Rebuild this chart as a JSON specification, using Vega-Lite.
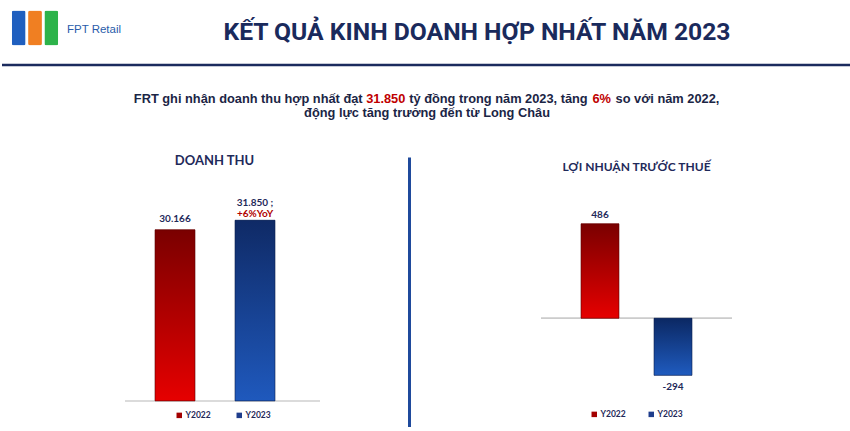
{
  "$schema": "https://vega.github.io/schema/vega-lite/v6.json",
  "background": "white",
  "padding": 0,
  "spacing": 0,
  "config": {
    "view": {"stroke": null},
    "legend": {"layout": {"bottom": {"anchor": "middle", "bounds": "flush"}}}
  },
  "vconcat": [
    {
      "hconcat": [
        {
          "width": 66,
          "height": 63,
          "data": {"values": [{"part": "F", "v": 1}, {"part": "P", "v": 1}, {"part": "T", "v": 1}]},
          "mark": {"type": "bar", "cornerRadius": 2},
          "encoding": {
            "x": {"field": "part", "type": "nominal", "scale": {"paddingInner": 0.15, "paddingOuter": 0.6}, "axis": null},
            "y": {"field": "v", "type": "quantitative", "scale": {"domain": [-0.5, 1.3], "nice": false, "zero": false}, "axis": null},
            "color": {"field": "part", "type": "nominal", "scale": {"range": ["#1f5fbf", "#f07f22", "#2db34a"]}, "legend": null}
          }
        },
        {
          "width": 52,
          "height": 63,
          "data": {"values": [{}]},
          "mark": {"type": "text", "text": "FPT Retail", "font": "Liberation Sans, Arial, sans-serif", "fontSize": 11.5, "color": "#2a5caa", "align": "center", "baseline": "middle", "dy": -1.5},
          "encoding": {}
        },
        {
          "width": 714,
          "height": 63,
          "data": {"values": [{}]},
          "mark": {"type": "text", "text": "KẾT QUẢ KINH DOANH HỢP NHẤT NĂM 2023", "font": "Roboto, Liberation Sans, sans-serif", "fontSize": 24.7, "fontWeight": "bold", "color": "#1a2a5c", "align": "center", "baseline": "middle", "dy": 1.5},
          "encoding": {}
        }
      ],
      "spacing": 0,
      "bounds": "flush"
    },
    {
      "width": 850,
      "height": 1,
      "data": {"values": [{}]},
      "mark": {"type": "rule", "color": "#1b2b5e", "strokeWidth": 2.5},
      "encoding": {"y": {"value": 0}}
    },
    {
      "width": 850,
      "height": 88,
      "data": {"values": [{}]},
      "layer": [
        {"mark": {"type": "text", "text": "FRT ghi nhận doanh thu hợp nhất đạt", "align": "right", "dx": -64.4, "dy": -12.5, "baseline": "middle", "font": "Liberation Sans, Arial, sans-serif", "fontSize": 12.8, "fontWeight": "bold", "color": "#1b2545"}, "encoding": {}},
        {"mark": {"type": "text", "text": "31.850", "align": "left", "dx": -60.8, "dy": -12.5, "baseline": "middle", "font": "Liberation Sans, Arial, sans-serif", "fontSize": 12.8, "fontWeight": "bold", "color": "#c00000"}, "encoding": {}},
        {"mark": {"type": "text", "text": "tỷ đồng trong năm 2023, tăng", "align": "left", "dx": -17.8, "dy": -12.5, "baseline": "middle", "font": "Liberation Sans, Arial, sans-serif", "fontSize": 12.8, "fontWeight": "bold", "color": "#1b2545"}, "encoding": {}},
        {"mark": {"type": "text", "text": "6%", "align": "left", "dx": 165.5, "dy": -12.5, "baseline": "middle", "font": "Liberation Sans, Arial, sans-serif", "fontSize": 12.8, "fontWeight": "bold", "color": "#c00000"}, "encoding": {}},
        {"mark": {"type": "text", "text": "so với năm 2022,", "align": "left", "dx": 188.6, "dy": -12.5, "baseline": "middle", "font": "Liberation Sans, Arial, sans-serif", "fontSize": 12.8, "fontWeight": "bold", "color": "#1b2545"}, "encoding": {}},
        {"mark": {"type": "text", "text": "động lực tăng trưởng đến từ Long Châu", "align": "center", "dx": 0, "dy": 2, "baseline": "middle", "font": "Liberation Sans, Arial, sans-serif", "fontSize": 12.8, "fontWeight": "bold", "color": "#1b2545"}, "encoding": {}}
      ]
    },
    {
      "hconcat": [
        {
          "width": 122,
          "height": 270,
          "data": {"values": [{}]},
          "mark": {"type": "text", "text": ""},
          "encoding": {}
        },
        {
          "hconcat": [
            {
              "width": 195,
              "height": 270,
              "title": {"text": "DOANH THU", "frame": "group", "anchor": "middle", "baseline": "alphabetic", "offset": -21, "dx": -8, "font": "Lato", "fontSize": 13, "fontWeight": "bold", "color": "#1f2a5a"},
              "data": {"values": [
                {"year": "Y2022", "value": 30166, "label": "30.166"},
                {"year": "Y2023", "value": 31850, "label": "31.850 ;", "note": "+6%YoY"}
              ]},
              "layer": [
                {
                  "mark": {"type": "rule", "color": "#d9d9d9", "strokeWidth": 1.5},
                  "encoding": {"y": {"datum": 0, "type": "quantitative", "scale": {"domain": [-4600, 43000], "nice": false, "zero": false}, "axis": null}}
                },
                {
                  "mark": {"type": "bar"},
                  "encoding": {
                    "x": {"field": "year", "type": "nominal", "scale": {"paddingInner": 0.5, "paddingOuter": 0.46875, "align": 0.4}, "axis": null},
                    "y": {"field": "value", "type": "quantitative", "scale": {"domain": [-4600, 43000], "nice": false, "zero": false}, "axis": null},
                    "color": {"field": "year", "type": "nominal", "scale": {"domain": ["Y2022", "Y2023"], "range": ["#a30000", "#1f3d8c"]}, "legend": {"orient": "bottom", "direction": "horizontal", "title": null, "offset": -16, "padding": 0, "symbolType": "square", "symbolSize": 30, "symbolStrokeWidth": 0, "labelFont": "Lato", "labelFontSize": 8.5, "labelFontWeight": "bold", "labelColor": "#1f2a5a", "columnPadding": 24, "labelOffset": 2}}
                  }
                },
                {
                  "transform": [{"filter": "datum.year === 'Y2022'"}],
                  "mark": {"type": "bar", "stroke": "#5a0000", "strokeWidth": 0.6, "color": {"gradient": "linear", "x1": 0, "y1": 0, "x2": 0, "y2": 1, "stops": [{"offset": 0, "color": "#7a0000"}, {"offset": 1, "color": "#e60000"}]}},
                  "encoding": {
                    "x": {"field": "year", "type": "nominal", "axis": null},
                    "y": {"field": "value", "type": "quantitative"}
                  }
                },
                {
                  "transform": [{"filter": "datum.year === 'Y2023'"}],
                  "mark": {"type": "bar", "stroke": "#0a1f4d", "strokeWidth": 0.6, "color": {"gradient": "linear", "x1": 0, "y1": 0, "x2": 0, "y2": 1, "stops": [{"offset": 0, "color": "#0f2a66"}, {"offset": 1, "color": "#1f59bd"}]}},
                  "encoding": {
                    "x": {"field": "year", "type": "nominal", "axis": null},
                    "y": {"field": "value", "type": "quantitative"}
                  }
                },
                {
                  "transform": [{"filter": "!datum.note"}],
                  "mark": {"type": "text", "baseline": "alphabetic", "dy": -7.5, "font": "Lato", "fontSize": 10, "fontWeight": "bold", "color": "#1f2a5a"},
                  "encoding": {
                    "x": {"field": "year", "type": "nominal", "axis": null},
                    "y": {"field": "value", "type": "quantitative"},
                    "text": {"field": "label"}
                  }
                },
                {
                  "transform": [{"filter": "datum.note"}],
                  "mark": {"type": "text", "baseline": "alphabetic", "dy": -14, "font": "Lato", "fontSize": 10, "fontWeight": "bold", "color": "#1f2a5a"},
                  "encoding": {
                    "x": {"field": "year", "type": "nominal", "axis": null},
                    "y": {"field": "value", "type": "quantitative"},
                    "text": {"field": "label"}
                  }
                },
                {
                  "transform": [{"filter": "datum.note"}],
                  "mark": {"type": "text", "baseline": "alphabetic", "dy": -3, "font": "Lato", "fontSize": 10, "fontWeight": "bold", "color": "#b00000"},
                  "encoding": {
                    "x": {"field": "year", "type": "nominal", "axis": null},
                    "y": {"field": "value", "type": "quantitative"},
                    "text": {"field": "note"}
                  }
                }
              ]
            },
            {
              "width": 191,
              "height": 270,
              "title": {"text": "LỢI NHUẬN TRƯỚC THUẾ", "frame": "group", "anchor": "middle", "baseline": "alphabetic", "offset": -26, "font": "Lato", "fontSize": 12, "fontWeight": "bold", "color": "#1f2a5a"},
              "data": {"values": [
                {"year": "Y2022", "value": 486, "label": "486"},
                {"year": "Y2023", "value": -294, "label": "-294"}
              ]},
              "layer": [
                {
                  "mark": {"type": "rule", "color": "#cccccc", "strokeWidth": 1.5},
                  "encoding": {"y": {"datum": 0, "type": "quantitative", "scale": {"domain": [-560, 830], "nice": false, "zero": false}, "axis": {"orient": "left", "offset": 132, "domain": true, "domainColor": "#1f4a9c", "domainWidth": 3, "ticks": false, "labels": false, "grid": false, "title": null}}}
                },
                {
                  "mark": {"type": "bar"},
                  "encoding": {
                    "x": {"field": "year", "type": "nominal", "scale": {"paddingInner": 0.48, "paddingOuter": 0.548}, "axis": null},
                    "y": {"field": "value", "type": "quantitative", "scale": {"domain": [-560, 830], "nice": false, "zero": false}, "axis": {"orient": "left", "offset": 132, "domain": true, "domainColor": "#1f4a9c", "domainWidth": 3, "ticks": false, "labels": false, "grid": false, "title": null}},
                    "color": {"field": "year", "type": "nominal", "scale": {"domain": ["Y2022", "Y2023"], "range": ["#a30000", "#1f3d8c"]}, "legend": {"orient": "bottom", "direction": "horizontal", "title": null, "offset": -17, "padding": 0, "symbolType": "square", "symbolSize": 30, "symbolStrokeWidth": 0, "labelFont": "Lato", "labelFontSize": 8.5, "labelFontWeight": "bold", "labelColor": "#1f2a5a", "columnPadding": 21, "labelOffset": 2}}
                  }
                },
                {
                  "transform": [{"filter": "datum.year === 'Y2022'"}],
                  "mark": {"type": "bar", "stroke": "#5a0000", "strokeWidth": 0.6, "color": {"gradient": "linear", "x1": 0, "y1": 0, "x2": 0, "y2": 1, "stops": [{"offset": 0, "color": "#7a0000"}, {"offset": 1, "color": "#e60000"}]}},
                  "encoding": {
                    "x": {"field": "year", "type": "nominal", "axis": null},
                    "y": {"field": "value", "type": "quantitative"}
                  }
                },
                {
                  "transform": [{"filter": "datum.year === 'Y2023'"}],
                  "mark": {"type": "bar", "stroke": "#0a1f4d", "strokeWidth": 0.6, "color": {"gradient": "linear", "x1": 0, "y1": 0, "x2": 0, "y2": 1, "stops": [{"offset": 0, "color": "#0b2863"}, {"offset": 1, "color": "#1f5bbf"}]}},
                  "encoding": {
                    "x": {"field": "year", "type": "nominal", "axis": null},
                    "y": {"field": "value", "type": "quantitative"}
                  }
                },
                {
                  "transform": [{"filter": "datum.value > 0"}],
                  "mark": {"type": "text", "baseline": "alphabetic", "dy": -5.5, "font": "Lato", "fontSize": 10, "fontWeight": "bold", "color": "#1f2a5a"},
                  "encoding": {
                    "x": {"field": "year", "type": "nominal", "axis": null},
                    "y": {"field": "value", "type": "quantitative"},
                    "text": {"field": "label"}
                  }
                },
                {
                  "transform": [{"filter": "datum.value < 0"}],
                  "mark": {"type": "text", "baseline": "alphabetic", "dy": 14.5, "font": "Lato", "fontSize": 10, "fontWeight": "bold", "color": "#1f2a5a"},
                  "encoding": {
                    "x": {"field": "year", "type": "nominal", "axis": null},
                    "y": {"field": "value", "type": "quantitative"},
                    "text": {"field": "label"}
                  }
                }
              ]
            }
          ],
          "spacing": 221,
          "bounds": "flush",
          "resolve": {"scale": {"x": "independent", "y": "independent", "color": "independent"}, "legend": {"color": "independent"}}
        }
      ],
      "spacing": 0,
      "resolve": {"scale": {"x": "independent", "y": "independent", "color": "independent"}, "legend": {"color": "independent"}}
    }
  ]
}
